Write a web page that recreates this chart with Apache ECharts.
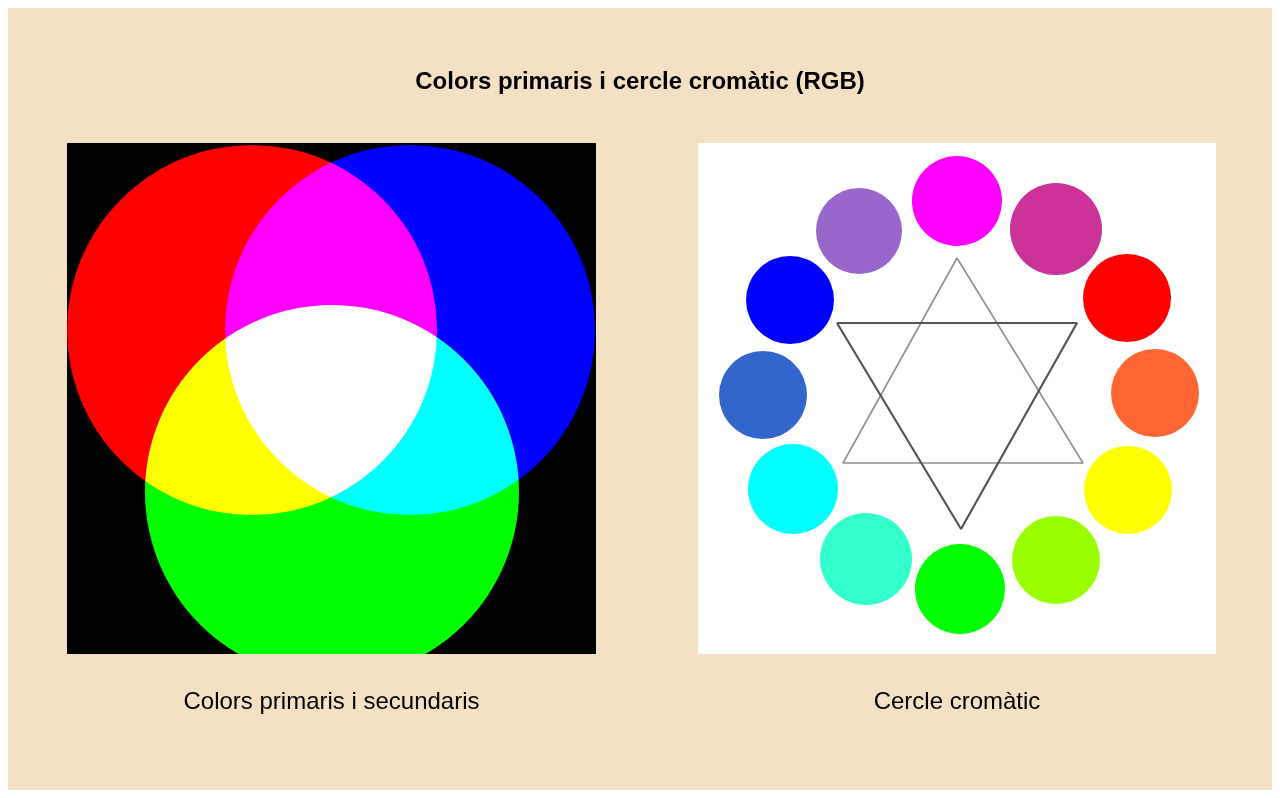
<!DOCTYPE html>
<html>
<head>
<meta charset="utf-8">
<script src="https://cdn.jsdelivr.net/npm/echarts@6/dist/echarts.min.js"></script>
<style>
html, body { margin: 0; padding: 0; background: #ffffff; }
#chart { position: absolute; left: 8px; top: 8px; width: 1264px; height: 782px; }
</style>
</head>
<body>
<div id="chart"></div>
<script>
// ---- Text ----
const titleText = 'Colors primaris i cercle cromàtic (RGB)';
const panelLabels = ['Colors primaris i secundaris', 'Cercle cromàtic'];

// ---- Left panel: additive primary circles (panel units, y downward) ----
const rgbNames = ['R', 'B', 'G'];
const rgbX = [185, 343, 265];
const rgbY = [187, 187, 349];
const rgbR = [185, 185, 187];
const rgbColors = ['#FF0000', '#0000FF', '#00FF00'];

// ---- Right panel: colour wheel (panel units, y downward) ----
const wheelColors = ['#FF00FF', '#CC3399', '#FF0000', '#FF6633', '#FFFF00', '#99FF00',
                     '#00FF00', '#33FFCC', '#00FFFF', '#3366CC', '#0000FF', '#9966CC'];
const wheelX = [259, 358, 429, 457, 430, 358, 262, 168, 95, 65, 92, 161];
const wheelY = [58, 86, 155, 250, 347, 417, 446, 416, 346, 252, 157, 88];
const wheelR = [45, 46, 44, 44, 44, 44, 45, 46, 45, 44, 44, 43];

// Star: two triangles (closed paths)
const triUpX = [259, 145, 385, 259];
const triUpY = [115, 320, 320, 115];
const triDownX = [139, 379, 263, 139];
const triDownY = [180, 180, 386, 180];

// ---- Build option ----
const chart = echarts.init(document.getElementById('chart'), null, { renderer: 'canvas' });

function circleRenderer(params, api) {
  const c = api.coord([api.value(0), api.value(1)]);
  const r = api.size([api.value(2), api.value(2)])[0];
  return { type: 'circle', shape: { cx: c[0], cy: c[1], r: r }, style: { fill: api.visual('color') } };
}

const hiddenAxisParts = {
  axisLine: { show: false },
  axisTick: { show: false },
  axisLabel: { show: false },
  splitLine: { show: false }
};

const nameStyle = {
  fontFamily: 'Liberation Sans, Arial, sans-serif',
  fontSize: 24,
  color: '#000000'
};

const option = {
  animation: false,
  backgroundColor: '#F4E1C4',
  title: {
    text: titleText,
    left: 'center',
    top: 62,
    padding: 0,
    textStyle: {
      fontFamily: 'Liberation Sans, Arial, sans-serif',
      fontSize: 24,
      fontWeight: 'bold',
      color: '#000000'
    }
  },
  grid: [
    { left: 59, top: 135, width: 529, height: 511, show: true, backgroundColor: '#000000', borderWidth: 0 },
    { left: 690, top: 135, width: 518, height: 511, show: true, backgroundColor: '#FFFFFF', borderWidth: 0 }
  ],
  xAxis: [
    Object.assign({ gridIndex: 0, type: 'value', min: 0, max: 529, name: panelLabels[0],
      nameLocation: 'middle', nameGap: 36, nameTextStyle: nameStyle }, hiddenAxisParts),
    Object.assign({ gridIndex: 1, type: 'value', min: 0, max: 518, name: panelLabels[1],
      nameLocation: 'middle', nameGap: 36, nameTextStyle: nameStyle }, hiddenAxisParts)
  ],
  yAxis: [
    Object.assign({ gridIndex: 0, type: 'value', min: 0, max: 511, inverse: true }, hiddenAxisParts),
    Object.assign({ gridIndex: 1, type: 'value', min: 0, max: 511, inverse: true }, hiddenAxisParts)
  ],
  series: [
    {
      type: 'custom',
      name: 'RGB',
      xAxisIndex: 0, yAxisIndex: 0,
      clip: true,
      silent: true,
      blendMode: 'lighter',
      renderItem: circleRenderer,
      data: rgbX.map((x, i) => ({ name: rgbNames[i], value: [x, rgbY[i], rgbR[i]], itemStyle: { color: rgbColors[i] } }))
    },
    {
      type: 'line',
      name: 'Triangle up',
      xAxisIndex: 1, yAxisIndex: 1,
      symbol: 'none',
      silent: true,
      z: 3,
      lineStyle: { color: '#8f8f8f', width: 1.6 },
      data: triUpX.map((x, i) => [x, triUpY[i]])
    },
    {
      type: 'line',
      name: 'Triangle down',
      xAxisIndex: 1, yAxisIndex: 1,
      symbol: 'none',
      silent: true,
      z: 3,
      lineStyle: { color: '#555555', width: 2.2 },
      data: triDownX.map((x, i) => [x, triDownY[i]])
    },
    {
      type: 'custom',
      name: 'Wheel',
      xAxisIndex: 1, yAxisIndex: 1,
      clip: true,
      silent: true,
      z: 4,
      renderItem: circleRenderer,
      data: wheelX.map((x, i) => ({ value: [x, wheelY[i], wheelR[i]], itemStyle: { color: wheelColors[i] } }))
    }
  ]
};

chart.setOption(option);
</script>
</body>
</html>
